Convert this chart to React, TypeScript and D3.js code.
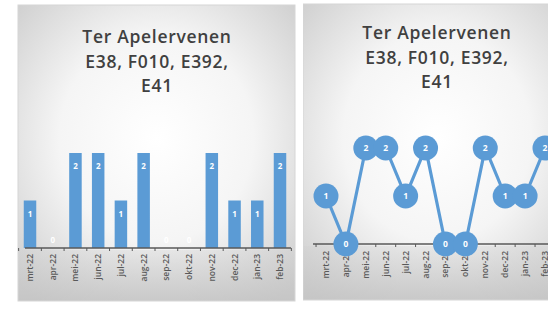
import React, { useEffect, useRef } from 'react';
import * as d3 from 'd3';

// months shown on both panels
const months = ['mrt-22', 'apr-22', 'mei-22', 'jun-22', 'jul-22', 'aug-22', 'sep-22', 'okt-22', 'nov-22', 'dec-22', 'jan-23', 'feb-23'];
// counts per month (same series in both panels)
const counts = [1, 0, 2, 2, 1, 2, 0, 0, 2, 1, 1, 2];
const titleLines = ['Ter Apelervenen', 'E38, F010, E392,', 'E41'];

const BLUE = '#5b9bd5';
const FONT = "'Open Sans', 'DejaVu Sans', sans-serif";

const App: React.FC = () => {
  const svgRef = useRef<SVGSVGElement>(null);

  useEffect(() => {
    if (!svgRef.current) return;
    const svg = d3.select(svgRef.current);
    svg.selectAll('*').remove();

    const defs = svg.append('defs');
    const grad = defs.append('radialGradient')
      .attr('id', 'panelBg')
      .attr('cx', '50%').attr('cy', '45%').attr('r', '70%');
    grad.append('stop').attr('offset', '0%').attr('stop-color', '#ffffff');
    grad.append('stop').attr('offset', '50%').attr('stop-color', '#f5f5f5');
    grad.append('stop').attr('offset', '100%').attr('stop-color', '#cdcdcd');

    const band = defs.append('linearGradient')
      .attr('id', 'bandBg')
      .attr('x1', 0).attr('x2', 0).attr('y1', 0).attr('y2', 1);
    band.append('stop').attr('offset', '0%').attr('stop-color', '#d0d0d0').attr('stop-opacity', 0.35);
    band.append('stop').attr('offset', '100%').attr('stop-color', '#c4c4c4').attr('stop-opacity', 0.8);

    const clip = defs.append('clipPath').attr('id', 'rightClip');
    clip.append('rect').attr('x', 303).attr('y', 0).attr('width', 245).attr('height', 313);

    const drawPanel = (g: d3.Selection<SVGGElement, unknown, null, undefined>,
      x: number, y: number, w: number, h: number, axisY: number, titleX: number, titleY: number) => {
      g.append('rect')
        .attr('x', x).attr('y', y).attr('width', w).attr('height', h)
        .attr('fill', 'url(#panelBg)');
      g.append('rect')
        .attr('x', x).attr('y', axisY + 2).attr('width', w).attr('height', y + h - axisY - 2)
        .attr('fill', 'url(#bandBg)');
      g.append('rect')
        .attr('x', x).attr('y', y).attr('width', w).attr('height', h)
        .attr('fill', 'none')
        .attr('stroke', '#d6d6d6');
      g.append('text')
        .attr('text-anchor', 'middle')
        .style('font-family', FONT)
        .style('font-size', '17.5px')
        .style('font-weight', 600)
        .style('letter-spacing', '0.7px')
        .style('fill', '#404040')
        .selectAll('tspan')
        .data(titleLines)
        .join('tspan')
        .attr('x', titleX)
        .attr('y', (_, i) => titleY + i * 24.5)
        .text(d => d);
    };

    const drawAxis = (g: d3.Selection<SVGGElement, unknown, null, undefined>,
      x0: number, x1: number, y0: number, step: number, first: number, labelY: number,
      pos: (m: string) => number) => {
      g.append('line')
        .attr('x1', x0).attr('x2', x1).attr('y1', y0).attr('y2', y0)
        .attr('stroke', '#595959').attr('stroke-width', 1.3);
      g.selectAll('line.tick')
        .data(d3.range(months.length + 1))
        .join('line')
        .attr('class', 'tick')
        .attr('x1', i => first - step / 2 + i * step)
        .attr('x2', i => first - step / 2 + i * step)
        .attr('y1', y0).attr('y2', y0 + 3)
        .attr('stroke', '#595959');
      g.selectAll('text.cat')
        .data(months)
        .join('text')
        .attr('class', 'cat')
        .attr('transform', d => `translate(${pos(d) + 3},${labelY}) rotate(-90)`)
        .attr('text-anchor', 'end')
        .style('font-family', FONT)
        .style('font-size', '8.5px')
        .style('font-weight', 600)
        .style('fill', '#595959')
        .text(d => d);
    };

    // ---- left panel: bars
    const left = svg.append('g');
    const stepL = (280 - 30) / 11;
    const xb = d3.scaleBand<string>()
      .domain(months)
      .range([30 - stepL / 2, 280 + stepL / 2])
      .paddingInner(0.45)
      .paddingOuter(0.225);
    const yb = d3.scaleLinear().domain([0, 2]).range([248, 153]);

    drawPanel(left, 18, 5, 277, 296, yb(0), 157, 43);

    left.selectAll('rect.bar')
      .data(counts)
      .join('rect')
      .attr('class', 'bar')
      .attr('x', (_, i) => xb(months[i])!)
      .attr('width', xb.bandwidth())
      .attr('y', d => yb(d))
      .attr('height', d => yb(0) - yb(d))
      .attr('fill', BLUE);

    drawAxis(left, 25, 291, yb(0), stepL, 30, 254, m => xb(m)! + xb.bandwidth() / 2);

    left.selectAll('text.val')
      .data(counts)
      .join('text')
      .attr('class', 'val')
      .attr('x', (_, i) => xb(months[i])! + xb.bandwidth() / 2)
      .attr('y', d => (d > 0 ? yb(d) + 16 : yb(0) - 5))
      .attr('text-anchor', 'middle')
      .style('font-family', FONT)
      .style('font-size', '8px')
      .style('font-weight', 700)
      .style('fill', '#ffffff')
      .text(d => d);

    // ---- right panel: line with markers
    const right = svg.append('g').attr('clip-path', 'url(#rightClip)');
    const xp = d3.scalePoint<string>().domain(months).range([326, 545]);
    const yp = d3.scaleLinear().domain([0, 2]).range([244, 148]);
    const stepR = xp.step();

    drawPanel(right, 303, 4, 268, 296, yp(0), 437, 39);
    drawAxis(right, 313, 560, yp(0), stepR, 326, 251, m => xp(m)!);

    const line = d3.line<number>()
      .x((_, i) => xp(months[i])!)
      .y(d => yp(d));
    right.append('path')
      .datum(counts)
      .attr('d', line)
      .attr('fill', 'none')
      .attr('stroke', BLUE)
      .attr('stroke-width', 3.2);

    right.selectAll('circle.pt')
      .data(counts)
      .join('circle')
      .attr('class', 'pt')
      .attr('cx', (_, i) => xp(months[i])!)
      .attr('cy', d => yp(d))
      .attr('r', 12.5)
      .attr('fill', BLUE);

    right.selectAll('text.pv')
      .data(counts)
      .join('text')
      .attr('class', 'pv')
      .attr('x', (_, i) => xp(months[i])!)
      .attr('y', d => yp(d) + 3)
      .attr('text-anchor', 'middle')
      .style('font-family', FONT)
      .style('font-size', '8.5px')
      .style('font-weight', 700)
      .style('fill', '#ffffff')
      .text(d => d);
  }, []);

  return (
    <svg
      ref={svgRef}
      width={548}
      height={313}
      style={{ position: 'absolute', left: 0, top: 0, background: '#ffffff' }}
    />
  );
};

export default App;
